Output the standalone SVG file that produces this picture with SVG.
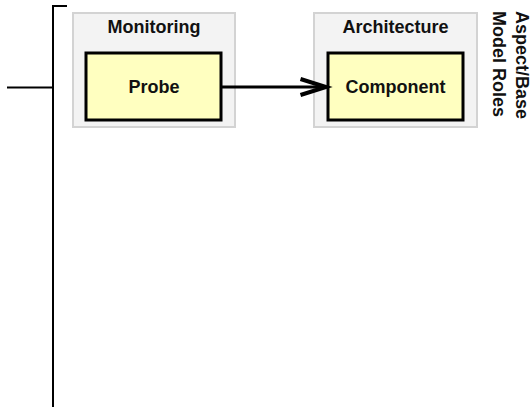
<svg xmlns="http://www.w3.org/2000/svg" width="532" height="407" viewBox="0 0 532 407">
<style>
.grp{fill:#f3f3f3;stroke:#d3d3d3;stroke-width:2}
.node{fill:#ffffc0;stroke:#000;stroke-width:3}
.t{font-family:"Liberation Sans",Arial,sans-serif;font-weight:bold;font-size:18px;fill:#111;text-anchor:middle}
.r{font-family:"Liberation Sans",Arial,sans-serif;font-weight:bold;font-size:18px;fill:#111}
.ln{fill:none;stroke:#000;stroke-width:2}
</style>
<rect width="532" height="407" fill="#fff"/>
<g id="bracket">
<path class="ln" d="M67 6H53V407M7 87.5H53"/>
</g>
<g id="monitoring">
<rect class="grp" x="73" y="13" width="162" height="114"/>
<text class="t" x="154" y="33">Monitoring</text>
</g>
<g id="architecture">
<rect class="grp" x="314" y="13" width="163" height="114"/>
<text class="t" x="395.5" y="33">Architecture</text>
</g>
<g id="probe">
<rect class="node" x="86" y="53" width="135" height="67"/>
<text class="t" x="154" y="93">Probe</text>
</g>
<g id="component">
<rect class="node" x="328" y="53" width="135" height="67"/>
<text class="t" x="395.5" y="93">Component</text>
</g>
<g id="connectors">
<path d="M221 87H326" fill="none" stroke="#000" stroke-width="3"/>
<path d="M300.5 79L326 87L300.5 95" fill="none" stroke="#000" stroke-width="4"/>
</g>
<g id="label">
<text class="r" transform="translate(516,11) rotate(90)">Aspect/Base</text>
<text class="r" transform="translate(493,11) rotate(90)">Model Roles</text>
</g>
</svg>
